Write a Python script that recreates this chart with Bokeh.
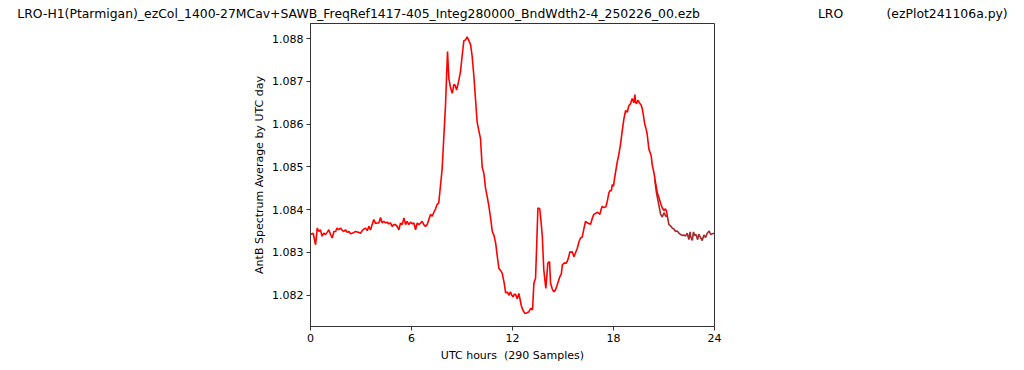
from bokeh.plotting import figure
from bokeh.embed import file_html
from bokeh.resources import INLINE
from bokeh.models import FixedTicker, Range1d

NB = "\u00a0"
TITLE = ("LRO-H1(Ptarmigan)_ezCol_1400-27MCav+SAWB_FreqRef1417-405_Integ280000_BndWdth2-4_250226_00.ezb"
         + NB * 30 + "LRO" + NB * 11 + "(ezPlot241106a.py)")
X_LABEL = "UTC hours \u00a0(290 Samples)"
Y_LABEL = "AntB Spectrum Average by UTC day"
X_TICKS = [0, 6, 12, 18, 24]
Y_TICKS = [1.082, 1.083, 1.084, 1.085, 1.086, 1.087, 1.088]

# day 1 (red)
red_hours = [
    0.00, 0.16, 0.30, 0.40, 0.50, 0.59, 0.69, 0.79, 0.89, 0.99, 1.09, 1.19, 1.29, 1.39, 1.49,
    1.58, 1.68, 1.78, 1.88, 1.98, 2.08, 2.18, 2.28, 2.38, 2.48, 2.58, 2.67, 2.77, 2.87, 2.97,
    3.07, 3.17, 3.27, 3.37, 3.47, 3.57, 3.66, 3.76, 3.86, 3.96, 4.06, 4.16, 4.26, 4.36, 4.46,
    4.55, 4.65, 4.75, 4.85, 4.95, 5.05, 5.15, 5.25, 5.35, 5.45, 5.55, 5.65, 5.74, 5.84, 5.94,
    6.04, 6.14, 6.24, 6.34, 6.44, 6.54, 6.63, 6.73, 6.83, 6.93, 7.03, 7.13, 7.23, 7.33, 7.43,
    7.52, 7.62, 7.72, 7.82, 8.02, 8.14, 8.22, 8.32, 8.42, 8.52, 8.60, 8.68, 8.80, 8.91, 9.01,
    9.11, 9.21, 9.31, 9.41, 9.51, 9.60, 9.70, 9.80, 9.90, 10.00, 10.10, 10.20, 10.30, 10.40, 10.50,
    10.60, 10.70, 10.80, 10.90, 11.00, 11.10, 11.19, 11.29, 11.39, 11.50, 11.59, 11.70, 11.80, 11.88, 11.96,
    12.04, 12.10, 12.18, 12.28, 12.38, 12.45, 12.52, 12.62, 12.72, 12.82, 12.90, 12.97, 13.07, 13.19, 13.27,
    13.37, 13.44, 13.51, 13.62, 13.70, 13.77, 13.86, 13.98, 14.10, 14.20, 14.26, 14.36, 14.46, 14.55, 14.62,
    14.72, 14.81, 14.90, 14.96, 15.09, 15.17, 15.25, 15.33, 15.41, 15.48, 15.55, 15.65, 15.75, 15.85, 15.95,
    16.04, 16.14, 16.24, 16.34, 16.41, 16.48, 16.56, 16.64, 16.74, 16.83, 16.93, 17.03, 17.11, 17.19, 17.26,
    17.33, 17.40, 17.47, 17.55, 17.63, 17.73, 17.80, 17.87, 17.93, 18.00, 18.05, 18.12, 18.22, 18.32, 18.42,
    18.52, 18.62, 18.72, 18.82, 18.91, 19.01, 19.11, 19.21, 19.27, 19.32, 19.37, 19.45, 19.57, 19.64, 19.71,
    19.78, 19.85, 19.93, 20.00, 20.10, 20.24, 20.30, 20.40, 20.50, 20.60, 20.70, 20.80, 20.90, 21.00, 21.08,
    21.15, 21.20,
]
red_values = [
    1.08342, 1.08345, 1.08318, 1.08357, 1.08349, 1.08353, 1.08338, 1.08345, 1.08342, 1.08347, 1.08353, 1.08342, 1.08334, 1.08349, 1.08349,
    1.08357, 1.08353, 1.08357, 1.08352, 1.08349, 1.08353, 1.08347, 1.08349, 1.08344, 1.08345, 1.08347, 1.08349, 1.08348, 1.08347, 1.08345,
    1.08351, 1.08355, 1.08357, 1.08351, 1.08361, 1.08353, 1.08365, 1.08377, 1.08368, 1.08369, 1.08369, 1.08382, 1.08369, 1.08373, 1.08369,
    1.08371, 1.08367, 1.08369, 1.08361, 1.08365, 1.08365, 1.08361, 1.08353, 1.08369, 1.08365, 1.08381, 1.08365, 1.08373, 1.08365, 1.08371,
    1.08367, 1.08369, 1.08353, 1.08369, 1.08365, 1.08369, 1.08373, 1.08365, 1.08361, 1.08365, 1.08377, 1.08389, 1.08385, 1.08394, 1.08402,
    1.08412, 1.08416, 1.08456, 1.08495, 1.08644, 1.08770, 1.08707, 1.08685, 1.08672, 1.08693, 1.08690, 1.08680, 1.08700, 1.08723, 1.08760,
    1.08795, 1.08797, 1.08804, 1.08795, 1.08786, 1.08760, 1.08715, 1.08660, 1.08605, 1.08585, 1.08566, 1.08499, 1.08485, 1.08450, 1.08430,
    1.08408, 1.08380, 1.08349, 1.08340, 1.08322, 1.08290, 1.08263, 1.08258, 1.08251, 1.08230, 1.08206, 1.08207, 1.08200, 1.08208, 1.08200,
    1.08196, 1.08202, 1.08202, 1.08192, 1.08204, 1.08190, 1.08176, 1.08165, 1.08158, 1.08158, 1.08160, 1.08161, 1.08169, 1.08166, 1.08228,
    1.08240, 1.08320, 1.08404, 1.08402, 1.08370, 1.08338, 1.08259, 1.08216, 1.08275, 1.08279, 1.08228, 1.08215, 1.08208, 1.08212, 1.08220,
    1.08232, 1.08243, 1.08250, 1.08271, 1.08276, 1.08274, 1.08279, 1.08288, 1.08302, 1.08300, 1.08302, 1.08290, 1.08300, 1.08310, 1.08325,
    1.08334, 1.08336, 1.08355, 1.08373, 1.08370, 1.08369, 1.08367, 1.08366, 1.08380, 1.08389, 1.08391, 1.08394, 1.08392, 1.08389, 1.08400,
    1.08408, 1.08405, 1.08406, 1.08407, 1.08420, 1.08440, 1.08445, 1.08444, 1.08459, 1.08455, 1.08470, 1.08487, 1.08511, 1.08530, 1.08554,
    1.08585, 1.08613, 1.08632, 1.08628, 1.08643, 1.08648, 1.08660, 1.08650, 1.08669, 1.08650, 1.08648, 1.08656, 1.08648, 1.08645, 1.08636,
    1.08620, 1.08601, 1.08590, 1.08577, 1.08542, 1.08526, 1.08505, 1.08487, 1.08463, 1.08440, 1.08428, 1.08415, 1.08404, 1.08398, 1.08402,
    1.08396, 1.08385,
]

# day 2 (brown)
brown_hours = [
    20.45, 20.55, 20.65, 20.80, 20.90, 21.00, 21.10, 21.20, 21.29, 21.39, 21.49, 21.59, 21.69, 21.79, 21.89,
    21.98, 22.08, 22.18, 22.28, 22.38, 22.48, 22.55, 22.60, 22.68, 22.75, 22.82, 22.90, 23.00, 23.07, 23.17,
    23.27, 23.37, 23.47, 23.57, 23.68, 23.78, 23.88, 23.97,
]
brown_values = [
    1.08470, 1.08440, 1.08420, 1.08389, 1.08383, 1.08393, 1.08385, 1.08385, 1.08365, 1.08362, 1.08357, 1.08355, 1.08349, 1.08350, 1.08345,
    1.08342, 1.08340, 1.08341, 1.08338, 1.08345, 1.08330, 1.08348, 1.08335, 1.08328, 1.08348, 1.08340, 1.08342, 1.08330, 1.08343, 1.08335,
    1.08328, 1.08341, 1.08335, 1.08345, 1.08350, 1.08342, 1.08344, 1.08345,
]

FONT = "DejaVu Sans"

p = figure(width=1024, height=370, output_backend="svg", toolbar_location=None,
           x_range=Range1d(0, 24), y_range=Range1d(1.081269, 1.088354),
           min_border_left=310, min_border_right=310, min_border_top=0, min_border_bottom=44)

p.title.text = TITLE
p.title.align = "center"
p.title.text_font = FONT
p.title.text_font_size = "12.4px"
p.title.text_font_style = "normal"
p.title.text_color = "black"
p.title.standoff = 6
p.title.offset = 0

p.line(brown_hours, brown_values, line_color="brown", line_width=1.6)
p.line(red_hours, red_values, line_color="red", line_width=1.6)

p.xgrid.visible = False
p.ygrid.visible = False
p.outline_line_color = "#333333"
p.outline_line_width = 1
p.background_fill_color = "white"
p.border_fill_color = "white"

p.xaxis.ticker = FixedTicker(ticks=X_TICKS)
p.yaxis.ticker = FixedTicker(ticks=Y_TICKS)
p.xaxis.major_label_overrides = {t: str(t) for t in X_TICKS}
p.yaxis.major_label_overrides = {t: f"{t:.3f}" for t in Y_TICKS}
p.xaxis.axis_label = X_LABEL
p.yaxis.axis_label = Y_LABEL
for ax in (p.xaxis[0], p.yaxis[0]):
    ax.axis_line_color = "#333333"
    ax.major_tick_line_color = "#333333"
    ax.major_tick_out = 4
    ax.major_tick_in = 0
    ax.minor_tick_out = 0
    ax.minor_tick_in = 0
    ax.major_label_text_font = FONT
    ax.major_label_text_font_size = "11px"
    ax.major_label_text_color = "black"
    ax.axis_label_text_font = FONT
    ax.axis_label_text_font_size = "11px"
    ax.axis_label_text_font_style = "normal"
    ax.axis_label_text_color = "black"
p.xaxis.major_label_standoff = 3
p.xaxis.axis_label_standoff = 4
p.yaxis.major_label_standoff = 3
p.yaxis.axis_label_standoff = 3

open("out.html", "w").write(file_html(p, INLINE))
